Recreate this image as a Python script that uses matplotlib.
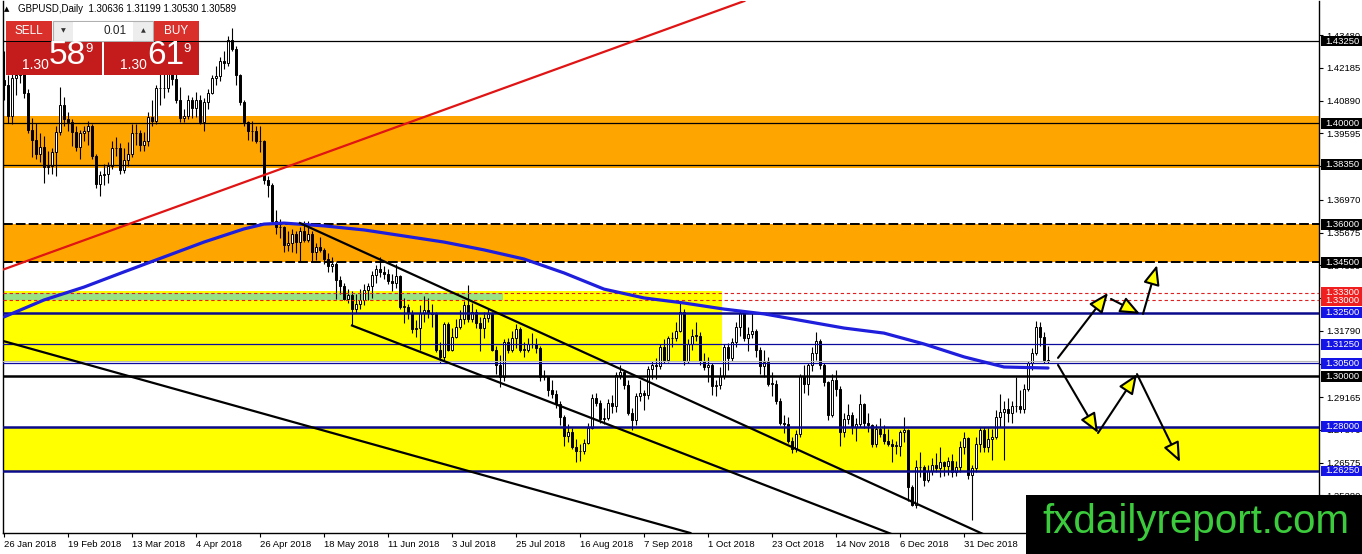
import matplotlib
matplotlib.use('Agg')
import matplotlib.pyplot as plt
import numpy as np
from matplotlib.patches import Rectangle, FancyArrowPatch
from matplotlib.transforms import blended_transform_factory

plt.rcParams['font.family'] = ['Liberation Sans', 'DejaVu Sans']

# ---------------- data ----------------
symbol = 'GBPUSD,Daily'
bid, ask = 1.30589, 1.30619
lot = '0.01'

date_labels = ['26 Jan 2018', '19 Feb 2018', '13 Mar 2018', '4 Apr 2018', '26 Apr 2018',
               '18 May 2018', '11 Jun 2018', '3 Jul 2018', '25 Jul 2018', '16 Aug 2018',
               '7 Sep 2018', '1 Oct 2018', '23 Oct 2018', '14 Nov 2018', '6 Dec 2018',
               '31 Dec 2018']
bars_per_label = 16

opens = [
    1.4170, 1.4150, 1.4030, 1.4180, 1.4190, 1.4270, 1.4120, 1.3975, 1.3935, 1.3880,
    1.3905, 1.3825, 1.3830, 1.3885, 1.3965, 1.4070, 1.4015, 1.4005, 1.3965, 1.3905,
    1.3960, 1.3970, 1.3990, 1.3870, 1.3760, 1.3795, 1.3800, 1.3830, 1.3900, 1.3900,
    1.3815, 1.3855, 1.3880, 1.3960, 1.3960, 1.3915, 1.3930, 1.4025, 1.4010, 1.4140,
    1.4140, 1.4140, 1.4235, 1.4175, 1.4090, 1.4020, 1.4030, 1.4090, 1.4060, 1.4090,
    1.4005, 1.4085, 1.4120, 1.4180, 1.4185, 1.4245, 1.4240, 1.4330, 1.4295, 1.4190,
    1.4085, 1.4005, 1.3970, 1.3970, 1.3930, 1.3930, 1.3775, 1.3755, 1.3615, 1.3590,
    1.3590, 1.3520, 1.3525, 1.3560, 1.3530, 1.3575, 1.3540, 1.3560, 1.3490, 1.3510,
    1.3500, 1.3465, 1.3435, 1.3445, 1.3380, 1.3355, 1.3305, 1.3320, 1.3265, 1.3285,
    1.3300, 1.3340, 1.3355, 1.3400, 1.3425, 1.3410, 1.3405, 1.3375, 1.3370, 1.3395,
    1.3275, 1.3275, 1.3250, 1.3185, 1.3190, 1.3250, 1.3260, 1.3250, 1.3245, 1.3105,
    1.3075, 1.3205, 1.3105, 1.3155, 1.3195, 1.3225, 1.3280, 1.3225, 1.3255, 1.3210,
    1.3190, 1.3230, 1.3245, 1.3105, 1.3045, 1.2995, 1.3135, 1.3105, 1.3150, 1.3185,
    1.3105, 1.3105, 1.3125, 1.3125, 1.3110, 1.2995, 1.2995, 1.2945, 1.2930, 1.2890,
    1.2840, 1.2765, 1.2780, 1.2720, 1.2705, 1.2705, 1.2735, 1.2795, 1.2915, 1.2895,
    1.2830, 1.2835, 1.2895, 1.2880, 1.3005, 1.3015, 1.2965, 1.2855, 1.2825, 1.2920,
    1.2935, 1.2925, 1.3030, 1.3045, 1.3040, 1.3115, 1.3065, 1.3150, 1.3150, 1.3180,
    1.3255, 1.3060, 1.3125, 1.3160, 1.3160, 1.3060, 1.3035, 1.3045, 1.2960, 1.2965,
    1.3000, 1.3115, 1.3070, 1.3135, 1.3195, 1.3250, 1.3150, 1.3165, 1.3180, 1.3105,
    1.3040, 1.3055, 1.2970, 1.2970, 1.2900, 1.2815, 1.2810, 1.2745, 1.2710, 1.2770,
    1.3000, 1.2970, 1.3045, 1.3090, 1.3140, 1.3045, 1.2975, 1.2845, 1.2985, 1.2950,
    1.2780, 1.2830, 1.2845, 1.2800, 1.2810, 1.2890, 1.2815, 1.2805, 1.2730, 1.2790,
    1.2770, 1.2745, 1.2730, 1.2725, 1.2725, 1.2780, 1.2785, 1.2560, 1.2490, 1.2640,
    1.2640, 1.2590, 1.2625, 1.2650, 1.2635, 1.2660, 1.2645, 1.2665, 1.2620, 1.2640,
    1.2720, 1.2755, 1.2610, 1.2635, 1.2730, 1.2785, 1.2720, 1.2750, 1.2760, 1.2840,
    1.2860, 1.2870, 1.2855, 1.2880, 1.2880, 1.2870, 1.2950, 1.3050, 1.3090, 1.3195,
    1.3155, 1.30636]

highs = [
    1.4285, 1.4190, 1.4195, 1.4245, 1.4290, 1.4280, 1.4135, 1.4020, 1.4000, 1.3960,
    1.3950, 1.3890, 1.3900, 1.3990, 1.4145, 1.4105, 1.4045, 1.4015, 1.3990, 1.3975,
    1.3990, 1.4010, 1.3995, 1.3880, 1.3810, 1.3840, 1.3845, 1.3930, 1.3945, 1.3920,
    1.3900, 1.3925, 1.3995, 1.3995, 1.3975, 1.3965, 1.4045, 1.4090, 1.4150, 1.4195,
    1.4195, 1.4245, 1.4245, 1.4200, 1.4145, 1.4055, 1.4110, 1.4105, 1.4125, 1.4110,
    1.4100, 1.4135, 1.4190, 1.4225, 1.4260, 1.4285, 1.4345, 1.4377, 1.4305, 1.4195,
    1.4090, 1.4010, 1.4010, 1.3990, 1.3990, 1.3935, 1.3790, 1.3765, 1.3655, 1.3620,
    1.3595, 1.3575, 1.3580, 1.3575, 1.3590, 1.3615, 1.3615, 1.3575, 1.3525, 1.3550,
    1.3505, 1.3485, 1.3470, 1.3450, 1.3395, 1.3370, 1.3345, 1.3335, 1.3325, 1.3345,
    1.3365, 1.3370, 1.3415, 1.3440, 1.3472, 1.3435, 1.3425, 1.3405, 1.3445, 1.3400,
    1.3310, 1.3285, 1.3260, 1.3220, 1.3280, 1.3315, 1.3310, 1.3285, 1.3255, 1.3135,
    1.3215, 1.3215, 1.3190, 1.3225, 1.3260, 1.3295, 1.3362, 1.3290, 1.3265, 1.3235,
    1.3255, 1.3265, 1.3255, 1.3120, 1.3085, 1.3145, 1.3150, 1.3180, 1.3205, 1.3195,
    1.3135, 1.3150, 1.3170, 1.3150, 1.3120, 1.3025, 1.3000, 1.2985, 1.2945, 1.2900,
    1.2845, 1.2810, 1.2795, 1.2750, 1.2730, 1.2750, 1.2815, 1.2930, 1.2935, 1.2905,
    1.2875, 1.2910, 1.2925, 1.3015, 1.3043, 1.3020, 1.2985, 1.2875, 1.2935, 1.2985,
    1.2945, 1.3040, 1.3060, 1.3070, 1.3125, 1.3145, 1.3160, 1.3175, 1.3215, 1.3298,
    1.3265, 1.3145, 1.3185, 1.3215, 1.3175, 1.3090, 1.3075, 1.3050, 1.2985, 1.3035,
    1.3125, 1.3130, 1.3150, 1.3215, 1.3260, 1.3255, 1.3195, 1.3257, 1.3185, 1.3115,
    1.3105, 1.3075, 1.3015, 1.2985, 1.2915, 1.2845, 1.2840, 1.2760, 1.2785, 1.3010,
    1.3045, 1.3050, 1.3115, 1.3175, 1.3145, 1.3050, 1.2980, 1.3010, 1.3025, 1.2960,
    1.2855, 1.2890, 1.2860, 1.2835, 1.2930, 1.2895, 1.2855, 1.2810, 1.2810, 1.2835,
    1.2805, 1.2790, 1.2750, 1.2745, 1.2785, 1.2840, 1.2790, 1.2570, 1.2670, 1.2700,
    1.2650, 1.2650, 1.2675, 1.2695, 1.2720, 1.2665, 1.2680, 1.2690, 1.2665, 1.2745,
    1.2780, 1.2760, 1.2650, 1.2760, 1.2800, 1.2800, 1.2795, 1.2790, 1.2865, 1.2930,
    1.2900, 1.2915, 1.2900, 1.2995, 1.2945, 1.2970, 1.3060, 1.3110, 1.3218, 1.3215,
    1.3175, 1.31199]

lows = [
    1.4090, 1.4000, 1.3995, 1.4110, 1.4160, 1.4100, 1.3960, 1.3865, 1.3860, 1.3845,
    1.3765, 1.3800, 1.3800, 1.3790, 1.3955, 1.3990, 1.3970, 1.3910, 1.3890, 1.3860,
    1.3930, 1.3915, 1.3860, 1.3745, 1.3712, 1.3755, 1.3765, 1.3820, 1.3870, 1.3800,
    1.3805, 1.3830, 1.3865, 1.3915, 1.3890, 1.3890, 1.3910, 1.3990, 1.3995, 1.4070,
    1.4100, 1.4125, 1.4150, 1.4080, 1.4005, 1.4005, 1.4015, 1.4020, 1.4025, 1.3995,
    1.3970, 1.4055, 1.4115, 1.4150, 1.4165, 1.4215, 1.4225, 1.4285, 1.4150, 1.4070,
    1.3990, 1.3935, 1.3930, 1.3920, 1.3885, 1.3760, 1.3710, 1.3605, 1.3560, 1.3545,
    1.3490, 1.3495, 1.3490, 1.3485, 1.3455, 1.3530, 1.3530, 1.3455, 1.3460, 1.3490,
    1.3445, 1.3410, 1.3410, 1.3305, 1.3325, 1.3300, 1.3290, 1.3204, 1.3250, 1.3265,
    1.3280, 1.3300, 1.3310, 1.3370, 1.3390, 1.3385, 1.3365, 1.3335, 1.3350, 1.3265,
    1.3210, 1.3225, 1.3170, 1.3155, 1.3105, 1.3215, 1.3230, 1.3195, 1.3095, 1.3050,
    1.3060, 1.3100, 1.3100, 1.3150, 1.3185, 1.3205, 1.3215, 1.3215, 1.3190, 1.3100,
    1.3150, 1.3215, 1.3100, 1.3010, 1.2958, 1.2980, 1.3090, 1.3095, 1.3110, 1.3095,
    1.3075, 1.3095, 1.3110, 1.3090, 1.2980, 1.2985, 1.2920, 1.2915, 1.2875, 1.2805,
    1.2725, 1.2740, 1.2710, 1.2662, 1.2665, 1.2690, 1.2730, 1.2790, 1.2880, 1.2815,
    1.2810, 1.2825, 1.2855, 1.2860, 1.2990, 1.2950, 1.2845, 1.2785, 1.2805, 1.2900,
    1.2865, 1.2910, 1.2990, 1.2990, 1.3030, 1.3050, 1.3055, 1.3115, 1.3140, 1.3175,
    1.3045, 1.3050, 1.3105, 1.3140, 1.3045, 1.3025, 1.2975, 1.2925, 1.2920, 1.2950,
    1.2990, 1.3025, 1.3060, 1.3115, 1.3160, 1.3140, 1.3100, 1.3150, 1.3075, 1.3010,
    1.2995, 1.2960, 1.2920, 1.2890, 1.2805, 1.2775, 1.2735, 1.2696, 1.2700, 1.2760,
    1.2935, 1.2925, 1.3020, 1.3065, 1.3030, 1.2960, 1.2825, 1.2840, 1.2920, 1.2725,
    1.2760, 1.2810, 1.2770, 1.2745, 1.2800, 1.2795, 1.2780, 1.2720, 1.2720, 1.2760,
    1.2730, 1.2725, 1.2660, 1.2690, 1.2685, 1.2740, 1.2505, 1.2485, 1.2477, 1.2600,
    1.2565, 1.2580, 1.2610, 1.2620, 1.2600, 1.2605, 1.2610, 1.2600, 1.2605, 1.2620,
    1.2690, 1.2595, 1.2430, 1.2620, 1.2700, 1.2700, 1.2700, 1.2670, 1.2750, 1.2800,
    1.2668, 1.2820, 1.2815, 1.2860, 1.2855, 1.2855, 1.2940, 1.3025, 1.3085, 1.3120,
    1.3050, 1.30530]

closes = [
    1.4150, 1.4030, 1.4180, 1.4190, 1.4270, 1.4120, 1.3975, 1.3935, 1.3880, 1.3905,
    1.3825, 1.3830, 1.3885, 1.3965, 1.4070, 1.4015, 1.4005, 1.3965, 1.3905, 1.3960,
    1.3970, 1.3990, 1.3870, 1.3760, 1.3795, 1.3800, 1.3830, 1.3900, 1.3900, 1.3815,
    1.3855, 1.3880, 1.3960, 1.3960, 1.3915, 1.3930, 1.4025, 1.4010, 1.4140, 1.4140,
    1.4140, 1.4235, 1.4175, 1.4090, 1.4020, 1.4030, 1.4090, 1.4060, 1.4090, 1.4005,
    1.4085, 1.4120, 1.4180, 1.4185, 1.4245, 1.4240, 1.4330, 1.4295, 1.4190, 1.4085,
    1.4005, 1.3970, 1.3970, 1.3930, 1.3930, 1.3775, 1.3755, 1.3615, 1.3590, 1.3590,
    1.3520, 1.3525, 1.3560, 1.3530, 1.3575, 1.3540, 1.3560, 1.3490, 1.3510, 1.3500,
    1.3465, 1.3435, 1.3445, 1.3380, 1.3355, 1.3305, 1.3320, 1.3265, 1.3285, 1.3300,
    1.3340, 1.3355, 1.3400, 1.3425, 1.3410, 1.3405, 1.3375, 1.3370, 1.3395, 1.3275,
    1.3275, 1.3250, 1.3185, 1.3190, 1.3250, 1.3260, 1.3250, 1.3245, 1.3105, 1.3075,
    1.3205, 1.3105, 1.3155, 1.3195, 1.3225, 1.3280, 1.3225, 1.3255, 1.3210, 1.3190,
    1.3230, 1.3245, 1.3105, 1.3045, 1.2995, 1.3135, 1.3105, 1.3150, 1.3185, 1.3105,
    1.3105, 1.3125, 1.3125, 1.3110, 1.2995, 1.2995, 1.2945, 1.2930, 1.2890, 1.2840,
    1.2765, 1.2780, 1.2720, 1.2705, 1.2705, 1.2735, 1.2795, 1.2915, 1.2895, 1.2830,
    1.2835, 1.2895, 1.2880, 1.3005, 1.3015, 1.2965, 1.2855, 1.2825, 1.2920, 1.2935,
    1.2925, 1.3030, 1.3045, 1.3040, 1.3115, 1.3065, 1.3150, 1.3150, 1.3180, 1.3255,
    1.3060, 1.3125, 1.3160, 1.3160, 1.3060, 1.3035, 1.3045, 1.2960, 1.2965, 1.3000,
    1.3115, 1.3070, 1.3135, 1.3195, 1.3250, 1.3150, 1.3165, 1.3180, 1.3105, 1.3040,
    1.3055, 1.2970, 1.2970, 1.2900, 1.2815, 1.2810, 1.2745, 1.2710, 1.2770, 1.3000,
    1.2970, 1.3045, 1.3090, 1.3140, 1.3045, 1.2975, 1.2845, 1.2985, 1.2950, 1.2780,
    1.2830, 1.2845, 1.2800, 1.2810, 1.2890, 1.2815, 1.2805, 1.2730, 1.2790, 1.2770,
    1.2745, 1.2730, 1.2725, 1.2725, 1.2780, 1.2785, 1.2560, 1.2490, 1.2640, 1.2640,
    1.2590, 1.2625, 1.2650, 1.2635, 1.2660, 1.2645, 1.2665, 1.2620, 1.2640, 1.2720,
    1.2755, 1.2610, 1.2635, 1.2730, 1.2785, 1.2720, 1.2750, 1.2760, 1.2840, 1.2860,
    1.2870, 1.2855, 1.2880, 1.2880, 1.2870, 1.2950, 1.3050, 1.3090, 1.3195, 1.3155,
    1.3064, 1.30589]

# moving average (blue), sampled along the curve
ma_bars = [0, 10, 20, 30, 40, 50, 60, 65, 70, 80, 90, 100, 110, 120, 130, 140,
           150, 160, 170, 180, 190, 200, 210, 220, 230, 240, 250, 261]
ma_values = [1.3234, 1.3301, 1.3352, 1.3412, 1.3471, 1.3530, 1.3582, 1.3601, 1.3605,
             1.3594, 1.3578, 1.3554, 1.3530, 1.3499, 1.3463, 1.3408, 1.3344, 1.3309,
             1.3289, 1.3265, 1.3246, 1.3218, 1.3190, 1.3170, 1.3127, 1.3076, 1.3036,
             1.3032]

# right price scale
tick_prices = [1.43480, 1.42185, 1.40890, 1.39595, 1.38300, 1.36970, 1.35675, 1.34380,
               1.33085, 1.31790, 1.30495, 1.29165, 1.27870, 1.26575, 1.25280]

# horizontal levels
solid_levels = [1.43250, 1.40000, 1.38350]
dashed_levels = [1.36000, 1.34500]
red_levels = [1.33300, 1.33000]
navy_thick_levels = [1.32500, 1.28000, 1.26250]
navy_thin_levels = [1.31250, 1.30500]
key_level = 1.30000

# zones
orange_zones = [(1.3822, 1.4027), (1.3450, 1.3600)]
yellow_zone_low = (1.2625, 1.2800)
yellow_zone_mid = (1.3057, 1.3338)
yellow_zone_mid_end = 179.5
green_zone = (1.3300, 1.3330)
green_zone_end = 124.75

# trend lines (bar, price)
red_trend = [(-0.25, 1.3421), (183.65, 1.4475)]
trend_a = [(74, 1.3605), (136.5, 1.3155)]
trend_b = [(87, 1.3200), (194, 1.2546)]
trend_c = [(-0.25, 1.3139), (171.5, 1.2380)]

# scenario arrows (bar, price) -> (bar, price)
scenario_arrows = [
    (263.5, 1.3072, 276.0, 1.3329),
    (276.75, 1.3305, 284.0, 1.3246),
    (284.75, 1.3246, 288.25, 1.3439),
    (263.5, 1.3044, 273.5, 1.2775),
    (273.5, 1.2775, 283.25, 1.3008),
    (283.25, 1.3008, 294.0, 1.2660),
]

# ---------------- figure ----------------
W, H = 1362, 554
fig = plt.figure(figsize=(W / 100, H / 100), dpi=100)
fig.patch.set_facecolor('white')
ax = fig.add_axes([3 / W, 21 / H, 1316 / W, 532 / H])
ax.set_facecolor('white')

o = np.array(opens); h = np.array(highs); l = np.array(lows); c = np.array(closes)
assert len(o) == len(h) == len(l) == len(c)
x = np.arange(len(c))

# zones
for lo, hi in orange_zones:
    ax.axhspan(lo, hi, color='#FFA500', lw=0, zorder=1)
ax.axhspan(*yellow_zone_low, color='#FFFF00', lw=0, zorder=1)
ax.add_patch(Rectangle((-1, yellow_zone_mid[0]), yellow_zone_mid_end + 1,
                       yellow_zone_mid[1] - yellow_zone_mid[0], color='#FFFF00', lw=0, zorder=1))
ax.add_patch(Rectangle((-1, green_zone[0]), green_zone_end + 1,
                       green_zone[1] - green_zone[0], color='#98E184', lw=0, zorder=1.1))

# candles
ax.vlines(x, l, h, color='black', lw=0.8, zorder=3)
up = c >= o
bottom = np.minimum(o, c)
height = np.maximum(np.abs(c - o), 0.00008)
ax.bar(x[up], height[up], bottom=bottom[up], width=0.6, facecolor='white',
       edgecolor='black', linewidth=0.7, zorder=4)
ax.bar(x[~up], height[~up], bottom=bottom[~up], width=0.6, facecolor='black',
       edgecolor='black', linewidth=0.7, zorder=4)

# levels
for lv in solid_levels:
    ax.axhline(lv, color='black', lw=0.9, zorder=5)
for lv in dashed_levels:
    ax.axhline(lv, color='black', lw=1.4, ls=(0, (5, 1.6)), zorder=5)
for lv in red_levels:
    ax.axhline(lv, color='#E02020', lw=0.8, ls=(0, (3, 2.5)), zorder=5)
for lv in navy_thick_levels:
    ax.axhline(lv, color='#0A0A8C', lw=1.8, zorder=5)
for lv in navy_thin_levels:
    ax.axhline(lv, color='#0A0A9C', lw=0.9, zorder=5)
ax.axhline(key_level, color='black', lw=1.8, zorder=5)
ax.axhline(bid, color='#B8B8B8', lw=0.8, zorder=5)

# moving average
ax.plot(ma_bars, ma_values, color='#1E1EDC', lw=2.3, zorder=6, solid_capstyle='round')

# trend lines
ax.axline(*red_trend, color='#E01414', lw=1.6, zorder=6)
ax.axline(*trend_c, color='black', lw=1.6, zorder=6)
for (b0, p0), (b1, p1) in (trend_a, trend_b):
    slope = (p1 - p0) / (b1 - b0)
    ax.plot([b0, 340], [p0, p0 + slope * (340 - b0)], color='black', lw=1.6, zorder=6)

# arrows
for b0, p0, b1, p1 in scenario_arrows:
    ax.add_patch(FancyArrowPatch((b0, p0), (b1, p1),
                                 arrowstyle='-|>,head_length=1.2,head_width=0.5',
                                 mutation_scale=10, facecolor='#FFFF00', edgecolor='black',
                                 linewidth=1.5, shrinkA=0, shrinkB=0, zorder=8))

# axes
ax.set_xlim(-0.25, 328.75)
ax.set_ylim(1.23796, 1.44832)
ax.yaxis.tick_right()
ax.set_yticks(tick_prices)
ax.set_yticklabels([f'{v:.5f}' for v in tick_prices])
ax.set_xticks([i * bars_per_label for i in range(len(date_labels))])
ax.set_xticklabels(date_labels, ha='left')
ax.tick_params(axis='y', length=3, width=0.8, pad=2, labelsize=6.8)
ax.tick_params(axis='x', length=3, width=0.8, pad=2, labelsize=6.8)
ax.spines['top'].set_visible(False)
for s in ('left', 'right', 'bottom'):
    ax.spines[s].set_linewidth(1.0)

# price labels on the right scale
box_tr = blended_transform_factory(fig.transFigure, ax.transData)
box_h = 0.0043
label_sets = [(solid_levels + dashed_levels + [key_level], '#000000'),
              (red_levels, '#F01E1E'),
              (navy_thick_levels + navy_thin_levels, '#1414E6')]
for lvls, col in label_sets:
    for lv in lvls:
        fig.add_artist(Rectangle((1321 / W, lv - box_h / 2), 41 / W, box_h, transform=box_tr,
                                 facecolor=col, edgecolor='none', zorder=3))
        fig.text(1325 / W, lv, f'{lv:.5f}', transform=box_tr, color='white', fontsize=6.8,
                 va='center', ha='left', zorder=4)

# ---------------- overlay: title, trade panel, watermark ----------------
ov = fig.add_axes([0, 0, 1, 1], zorder=5)
ov.set_xlim(0, W)
ov.set_ylim(H, 0)
ov.axis('off')
ov.patch.set_visible(False)

ov.text(4, 9.5, '\u25B2', fontsize=5, family='DejaVu Sans', va='center')
ov.text(18, 9.5, f'{symbol}  {opens[-1]:.5f} {highs[-1]:.5f} {lows[-1]:.5f} {closes[-1]:.5f}',
        fontsize=7, va='center')

red_btn, red_box = '#D9302C', '#C41C1C'
ov.add_patch(Rectangle((6, 21), 46, 20, facecolor=red_btn))
ov.text(29, 31.5, 'SELL', color='white', fontsize=8.5, ha='center', va='center')
ov.add_patch(Rectangle((53, 21), 100, 20, facecolor='#EDEDED', edgecolor='#B0B0B0', lw=0.8))
ov.add_patch(Rectangle((73, 21.5), 60, 19, facecolor='white'))
ov.text(63, 31, '\u25BC', fontsize=4.5, family='DejaVu Sans', ha='center', va='center', color='#333333')
ov.text(143, 31, '\u25B2', fontsize=4.5, family='DejaVu Sans', ha='center', va='center', color='#333333')
ov.text(127, 31.5, lot, ha='right', va='center', fontsize=8.5, color='#222222')
ov.add_patch(Rectangle((154, 21), 45, 20, facecolor=red_btn))
ov.text(176.5, 31.5, 'BUY', color='white', fontsize=8.5, ha='center', va='center')

for x0, w, price in ((6, 96, bid), (104, 95, ask)):
    s = f'{price:.5f}'
    ov.add_patch(Rectangle((x0, 42), w, 33, facecolor=red_box))
    ov.text(x0 + 16, 65, s[:4], color='white', fontsize=10, ha='left', va='center')
    ov.text(x0 + 43, 56, s[4:6], color='white', fontsize=24, ha='left', va='center')
    ov.text(x0 + 79, 49, s[6], color='white', fontsize=9.5, ha='left', va='center')

ov.add_patch(Rectangle((1026, 495), 336, 59, facecolor='black'))
ov.text(1042, 533, 'fxdailyreport.com', color='#3CCB3C', fontsize=29, va='baseline',
        ha='left', family='Liberation Sans')

fig.savefig('out.png', dpi=100)
